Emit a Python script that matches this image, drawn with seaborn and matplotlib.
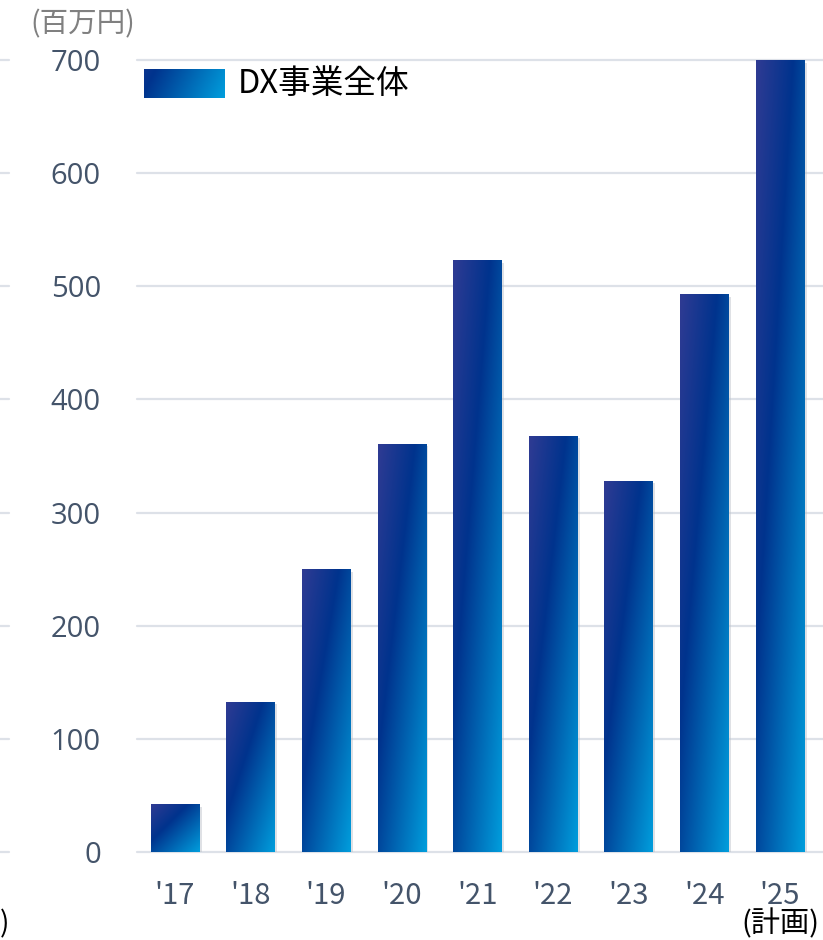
import numpy as np
import pandas as pd
import matplotlib
matplotlib.use("Agg")
import matplotlib.pyplot as plt
import matplotlib.transforms as mtransforms
from matplotlib.colors import LinearSegmentedColormap
from matplotlib.patches import Rectangle
import seaborn as sns

# data
years = ["'17", "'18", "'19", "'20", "'21", "'22", "'23", "'24", "'25"]
sales = [42, 133, 250, 361, 523, 368, 328, 493, 700]
y_ticks = [0, 100, 200, 300, 400, 500, 600, 700]
unit_label = "(百万円)"
legend_label = "DX事業全体"
plan_label = "(計画)"

TICK_COLOR = "#44546A"
GRID_COLOR = "#DDE1E8"
grad_cmap = LinearSegmentedColormap.from_list(
    "dx", [(0.0, "#2F3B93"), (0.38, "#00338D"), (1.0, "#009DDC")]
)

sns.set_style("white")
plt.rcParams["font.family"] = ["Noto Sans CJK JP", "DejaVu Sans"]

W, H = 823, 940
fig = plt.figure(figsize=(W / 100, H / 100), dpi=100)
ax = fig.add_axes([137 / W, 88 / H, (W - 137) / W, 792 / H])

df = pd.DataFrame({"year": years, "sales": sales})
sns.barplot(data=df, x="year", y="sales", color="#00338D", width=0.64,
            ax=ax, zorder=2)

ax.set_axisbelow(True)
ax.yaxis.grid(True, color=GRID_COLOR, linewidth=1.6)
for s in ax.spines.values():
    s.set_visible(False)
ax.set_xlabel("")
ax.set_ylabel("")
ax.tick_params(axis="y", length=0, pad=26, labelcolor=TICK_COLOR)
ax.tick_params(axis="x", length=0, pad=21, labelcolor=TICK_COLOR)

# gradient fill per bar, clipped to the bar shape, with a soft shadow
uu, vv = np.meshgrid(np.linspace(0, 1, 60), np.linspace(0, 1, 200))
grad = (uu + vv) / 2
shadow_tr = mtransforms.offset_copy(ax.transData, fig, x=2.5, y=-2.5, units="dots")
for bar in list(ax.patches):
    x0, y0 = bar.get_x(), bar.get_y()
    w, h = bar.get_width(), bar.get_height()
    ax.add_patch(Rectangle((x0, y0), w, h, transform=shadow_tr,
                           facecolor="#B9BEC6", alpha=0.45, edgecolor="none", zorder=1.5))
    im = ax.imshow(grad, cmap=grad_cmap, vmin=0, vmax=1, aspect="auto",
                   extent=(x0, x0 + w, y0, y0 + h), origin="upper",
                   interpolation="bilinear", zorder=2.5)
    im.set_clip_path(bar)
    bar.set_facecolor("none")
    bar.set_edgecolor("none")

ax.set_xlim(-0.5, 8.57)
ax.set_ylim(0, 700)
ax.set_yticks(y_ticks, [str(t) for t in y_ticks], family=["Open Sans", "DejaVu Sans"],
              fontsize=21)
ax.set_xticks(range(len(years)), years,
              family=["Liberation Sans Narrow", "Noto Sans CJK JP", "DejaVu Sans"],
              fontsize=21)
for gl in ax.get_ygridlines():
    gl.set_clip_on(False)

# legend swatch + label
lu, lv = np.meshgrid(np.linspace(0, 1, 80), np.linspace(0, 1, 12))
lax = fig.add_axes([144 / W, (H - 98) / H, 80 / W, 29 / H])
lax.imshow(0.3 + 0.6 * lu + 0.1 * lv, cmap=grad_cmap, vmin=0, vmax=1,
           aspect="auto", interpolation="bilinear")
lax.axis("off")
fig.text(238 / W, 1 - 84 / H, legend_label, fontsize=23.5, color="black",
         va="center", ha="left")

fig.text(30 / W, 1 - 24 / H, unit_label, fontsize=20.5, color="#808080",
         va="center", ha="left")
fig.text(819 / W, 1 - 924 / H, plan_label, fontsize=21, color="black",
         va="center", ha="right")

# remnants of the neighbouring chart at the left edge
sax = fig.add_axes([0, 88 / H, 9 / W, 792 / H], sharey=ax)
sax.yaxis.grid(True, color=GRID_COLOR, linewidth=1.6)
for gl in sax.get_ygridlines():
    gl.set_clip_on(False)
sax.set_xticks([])
sax.tick_params(axis="y", left=False, labelleft=False)
for s in sax.spines.values():
    s.set_visible(False)
fig.text(0, 1 - 924 / H, ")", fontsize=20, color="black", va="center", ha="left")

fig.savefig("out.png", dpi=100)
